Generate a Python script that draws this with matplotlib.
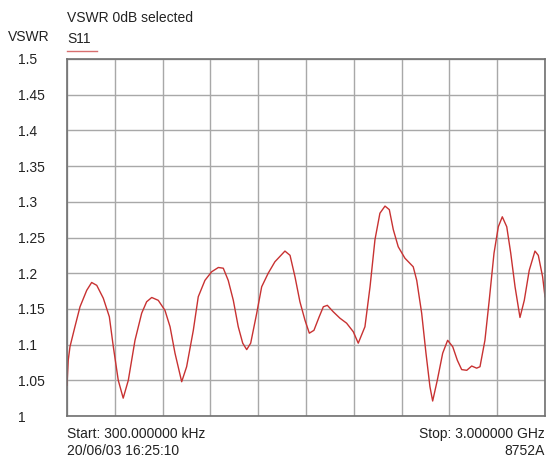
import matplotlib
matplotlib.use("Agg")
import matplotlib.pyplot as plt
import numpy as np

plt.rcParams["font.family"] = ["Liberation Sans", "DejaVu Sans"]

# S11 VSWR trace, frequency in MHz (300 kHz .. 3 GHz)
freq_mhz = [0.3, 8, 19, 50, 82, 124, 155, 187, 228, 266, 291, 322, 353, 385, 427,
            469, 500, 532, 573, 615, 647, 678, 720, 751, 793, 824, 866, 908, 950,
            981, 1012, 1044, 1075, 1103, 1128, 1153, 1191, 1222, 1263, 1305, 1368,
            1400, 1431, 1462, 1494, 1521, 1550, 1583, 1609, 1634, 1671, 1713, 1755,
            1797, 1828, 1870, 1902, 1933, 1964, 1996, 2023, 2048, 2079, 2121, 2173,
            2195, 2226, 2253, 2278, 2295, 2324, 2358, 2389, 2421, 2450, 2477, 2509,
            2540, 2571, 2592, 2623, 2650, 2680, 2707, 2732, 2760, 2785, 2812, 2843,
            2870, 2901, 2937, 2958, 2985, 3000]
vswr = [1.043, 1.078, 1.097, 1.125, 1.153, 1.176, 1.187, 1.183, 1.165, 1.139, 1.097,
        1.050, 1.025, 1.050, 1.106, 1.144, 1.160, 1.166, 1.162, 1.148, 1.125, 1.088,
        1.048, 1.069, 1.120, 1.167, 1.190, 1.202, 1.208, 1.207, 1.190, 1.162, 1.125,
        1.102, 1.093, 1.102, 1.144, 1.181, 1.200, 1.216, 1.231, 1.225, 1.195, 1.160,
        1.134, 1.116, 1.120, 1.139, 1.153, 1.155, 1.146, 1.137, 1.130, 1.118, 1.102,
        1.125, 1.181, 1.247, 1.284, 1.294, 1.289, 1.261, 1.237, 1.221, 1.209, 1.190,
        1.144, 1.088, 1.041, 1.021, 1.050, 1.088, 1.106, 1.097, 1.078, 1.065, 1.064,
        1.070, 1.067, 1.069, 1.106, 1.162, 1.228, 1.265, 1.279, 1.265, 1.228, 1.181,
        1.138, 1.162, 1.204, 1.231, 1.225, 1.195, 1.167]

y_ticks = [1, 1.05, 1.1, 1.15, 1.2, 1.25, 1.3, 1.35, 1.4, 1.45, 1.5]
y_labels = ["1", "1.05", "1.1", "1.15", "1.2", "1.25", "1.3", "1.35", "1.4", "1.45", "1.5"]

TRACE = "#c83232"
GRID = "#a8a8a8"

fig = plt.figure(figsize=(5.51, 4.59), dpi=100)
ax = fig.add_axes([67 / 551, 1 - 416 / 459, 478 / 551, 357 / 459])

ax.plot(freq_mhz, vswr, color=TRACE, lw=1.0, solid_joinstyle="round")
ax.set_xlim(0.3, 3000)
ax.set_ylim(1.0, 1.5)
ax.set_xticks(np.linspace(0.3, 3000, 11))
ax.set_xticklabels([])
ax.set_yticks(y_ticks)
ax.set_yticklabels(y_labels, fontsize=10, ha="left", color="#222222")
ax.tick_params(axis="y", length=0, pad=35)
ax.tick_params(axis="x", length=0)
ax.grid(True, color=GRID, lw=1.0)
for sp in ax.spines.values():
    sp.set_color("#707070")
    sp.set_linewidth(1.2)

fs = 10
fig.text(67 / 551, 1 - 18 / 459, "VSWR 0dB selected", fontsize=fs, va="center", color="#222222")
fig.text(8 / 551, 1 - 37 / 459, "VSWR", fontsize=fs, va="center", color="#222222")
fig.text(67 / 551, 1 - 39 / 459, "S11", fontsize=fs, va="center", color="#222222")
fig.add_artist(plt.Line2D([67 / 551, 97 / 551], [1 - 51 / 459, 1 - 51 / 459],
                          color=TRACE, lw=1.0, alpha=0.7))

fig.text(67 / 551, 1 - 434 / 459, "Start: 300.000000 kHz", fontsize=fs, va="center", color="#222222")
fig.text(545 / 551, 1 - 434 / 459, "Stop: 3.000000 GHz", fontsize=fs, va="center", ha="right", color="#222222")
fig.text(67 / 551, 1 - 451 / 459, "20/06/03 16:25:10", fontsize=fs, va="center", color="#222222")
fig.text(545 / 551, 1 - 451 / 459, "8752A", fontsize=fs, va="center", ha="right", color="#222222")

fig.savefig("out.png", dpi=100)
